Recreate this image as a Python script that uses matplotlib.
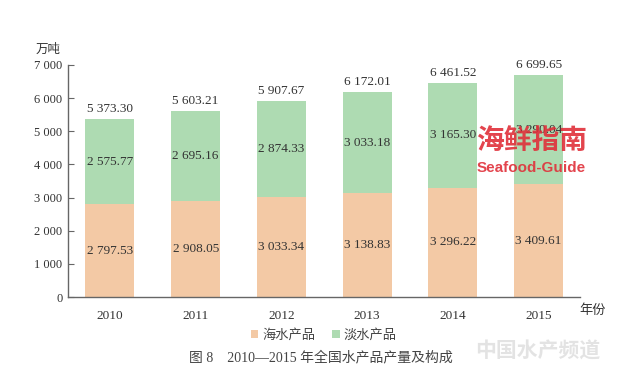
import matplotlib
matplotlib.use("Agg")
import matplotlib.pyplot as plt
import numpy as np

years = ["2010", "2011", "2012", "2013", "2014", "2015"]
seawater = [2797.53, 2908.05, 3033.34, 3138.83, 3296.22, 3409.61]
freshwater = [2575.77, 2695.16, 2874.33, 3033.18, 3165.30, 3290.04]
totals = [5373.30, 5603.21, 5907.67, 6172.01, 6461.52, 6699.65]
yticks = [0, 1000, 2000, 3000, 4000, 5000, 6000, 7000]

c_sea = "#f3c9a5"
c_fresh = "#aedbb2"
fam = ["Liberation Serif", "Noto Sans CJK SC"]
txt = "#333333"


def fmt(v):
    s = f"{v:,.2f}"
    return s.replace(",", " ")


fig = plt.figure(figsize=(6.4, 3.8), dpi=100)
ax = fig.add_axes([0.106, 0.218, 0.80, 0.611])

x = np.arange(len(years))
w = 0.57
ax.bar(x, seawater, w, color=c_sea, label="海水产品")
ax.bar(x, freshwater, w, bottom=seawater, color=c_fresh, label="淡水产品")

for i in range(len(years)):
    ax.text(x[i], seawater[i] / 2, fmt(seawater[i]), ha="center", va="center",
            family=fam, fontsize=9.5, color=txt)
    ax.text(x[i], seawater[i] + freshwater[i] / 2, fmt(freshwater[i]),
            ha="center", va="center", family=fam, fontsize=9.5, color=txt)
    ax.text(x[i], totals[i] + 130, fmt(totals[i]), ha="center", va="bottom",
            family=fam, fontsize=9.5, color=txt)

ax.set_xlim(-0.49, 5.48)
ax.set_ylim(0, 7000)
ax.set_yticks(yticks)
ax.set_yticklabels([fmt(v)[:-3] if v else "0" for v in yticks], family=fam,
                   fontsize=9, color=txt)
ax.set_xticks(x)
ax.set_xticklabels(years, family=fam, fontsize=9.5, color=txt)
ax.tick_params(axis="y", direction="in", length=4, color="#666666", pad=4)
ax.tick_params(axis="x", length=0, pad=9)
for s in ["top", "right"]:
    ax.spines[s].set_visible(False)
for s in ["left", "bottom"]:
    ax.spines[s].set_color("#666666")
    ax.spines[s].set_linewidth(1.0)

fig.text(0.056, 0.868, "万吨", family=fam, fontsize=9, color=txt, va="center")
fig.text(0.906, 0.183, "年份", family=fam, fontsize=9.5, color=txt, va="center")

ax.legend(loc="center", bbox_to_anchor=(0.5, -0.165), ncol=2, frameon=False,
          prop={"family": fam, "size": 9.5}, handlelength=0.55, handleheight=0.55,
          columnspacing=1.3, handletextpad=0.3, labelcolor="#444444")

fig.text(0.502, 0.06, "图 8    2010—2015 年全国水产品产量及构成", family=fam,
         fontsize=10, color="#444444", ha="center", va="center")

# watermarks
fig.text(0.83, 0.63, "海鲜指南", family=["Noto Sans CJK SC"], fontsize=20,
         fontweight="bold", color="#e0303a", ha="center", va="center", alpha=0.9)
fig.text(0.83, 0.557, "Seafood-Guide", family=["Liberation Sans"], fontsize=11,
         fontweight="bold", color="#e0303a", ha="center", va="center", alpha=0.9)
fig.text(0.84, 0.075, "中国水产频道", family=["Noto Sans CJK SC"], fontsize=15,
         fontweight="bold", color="#dddddd", ha="center", va="center", alpha=0.8)

fig.savefig("out.png", dpi=100, facecolor="white")
